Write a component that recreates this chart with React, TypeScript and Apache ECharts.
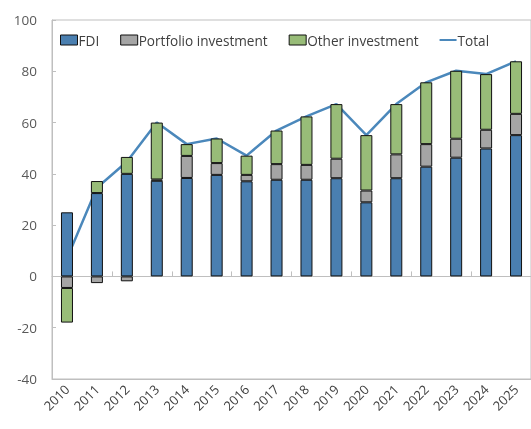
import React, { useEffect, useRef } from "react";
import * as echarts from "echarts";

const categories = ["2010", "2011", "2012", "2013", "2014", "2015", "2016", "2017", "2018", "2019", "2020", "2021", "2022", "2023", "2024", "2025"];
const fdi = [25.0, 32.5, 40.0, 37.3, 38.4, 39.6, 37.1, 37.7, 37.7, 38.3, 28.9, 38.3, 42.8, 46.3, 49.9, 55.1];
const portfolio = [-4.5, -2.6, -1.9, 0.5, 8.6, 4.6, 2.5, 6.1, 5.8, 7.6, 4.6, 9.3, 8.8, 7.4, 7.3, 8.3];
const other = [-13.5, 4.7, 6.6, 22.2, 4.6, 9.6, 7.5, 13.1, 18.9, 21.3, 21.6, 19.6, 24.1, 26.5, 21.7, 20.5];
const total = [7.0, 34.6, 44.7, 60.0, 51.6, 53.8, 47.1, 56.9, 62.4, 67.2, 55.1, 67.2, 75.7, 80.2, 78.9, 83.9];
const yTicks = { min: -40, max: 100, interval: 20 };

const FONT = "'Open Sans', 'Noto Sans', sans-serif";
const TEXT = "#404040";
const AXIS = "#bfbfbf";

export default function App() {
  const ref = useRef<HTMLDivElement>(null);
  useEffect(() => {
    if (!ref.current) return;
    const chart = echarts.init(ref.current, undefined, { renderer: "svg" });
    const barStyle = (color: string) => ({ color, borderColor: "#111", borderWidth: 1 });
    const boxItem = { borderColor: "#111", borderWidth: 1 };
    chart.setOption({
      animation: false,
      textStyle: { fontFamily: FONT },
      grid: { left: 52, top: 20, bottom: 50, right: -9, show: true, borderColor: AXIS, borderWidth: 1, backgroundColor: "transparent" },
      legend: {
        left: 60,
        top: 33,
        padding: 0,
        itemWidth: 17,
        itemHeight: 10,
        itemGap: 21,
        textStyle: { fontSize: 13.6, color: TEXT, fontFamily: FONT, padding: [0, 0, 0, -4] },
        data: [
          { name: "FDI", icon: "rect", itemStyle: boxItem },
          { name: "Portfolio investment", icon: "rect", itemStyle: boxItem },
          { name: "Other investment", icon: "rect", itemStyle: boxItem },
          { name: "Total", icon: "path://M0,0H17V2H0Z", itemStyle: { color: "#4b88bb", borderWidth: 0 } },
        ],
      },
      xAxis: [
        {
          type: "category",
          data: categories,
          axisLine: { onZero: false, lineStyle: { color: AXIS } },
          axisTick: { show: false },
          axisLabel: { rotate: 45, fontSize: 13, color: TEXT, margin: 8, interval: 0, fontFamily: FONT },
        },
        {
          type: "category",
          data: categories,
          position: "bottom",
          axisLine: { onZero: true, lineStyle: { color: AXIS } },
          axisTick: { show: true, inside: true, length: 5, lineStyle: { color: AXIS } },
          axisLabel: { show: false },
        },
      ],
      yAxis: {
        type: "value",
        min: yTicks.min,
        max: yTicks.max,
        interval: yTicks.interval,
        splitLine: { show: false },
        axisLine: { show: true, lineStyle: { color: AXIS } },
        axisTick: { show: true, inside: true, length: 4, lineStyle: { color: AXIS } },
        axisLabel: { fontSize: 13.5, color: "#595959", margin: 15, fontFamily: FONT },
      },
      series: [
        { name: "Total", type: "line", data: total, z: 1, symbol: "none", lineStyle: { color: "#4b88bb", width: 2.5 }, itemStyle: { color: "#4b88bb" } },
        { name: "FDI", type: "bar", stack: "a", data: fdi, barWidth: 12, z: 2, itemStyle: barStyle("#4a7fb0") },
        { name: "Portfolio investment", type: "bar", stack: "a", data: portfolio, barWidth: 12, z: 2, itemStyle: barStyle("#a5a5a5") },
        { name: "Other investment", type: "bar", stack: "a", data: other, barWidth: 12, z: 2, itemStyle: barStyle("#98bc78") },
      ],
    });
    return () => chart.dispose();
  }, []);
  return <div ref={ref} style={{ position: "fixed", left: 0, top: 0, width: 531, height: 429 }} />;
}
